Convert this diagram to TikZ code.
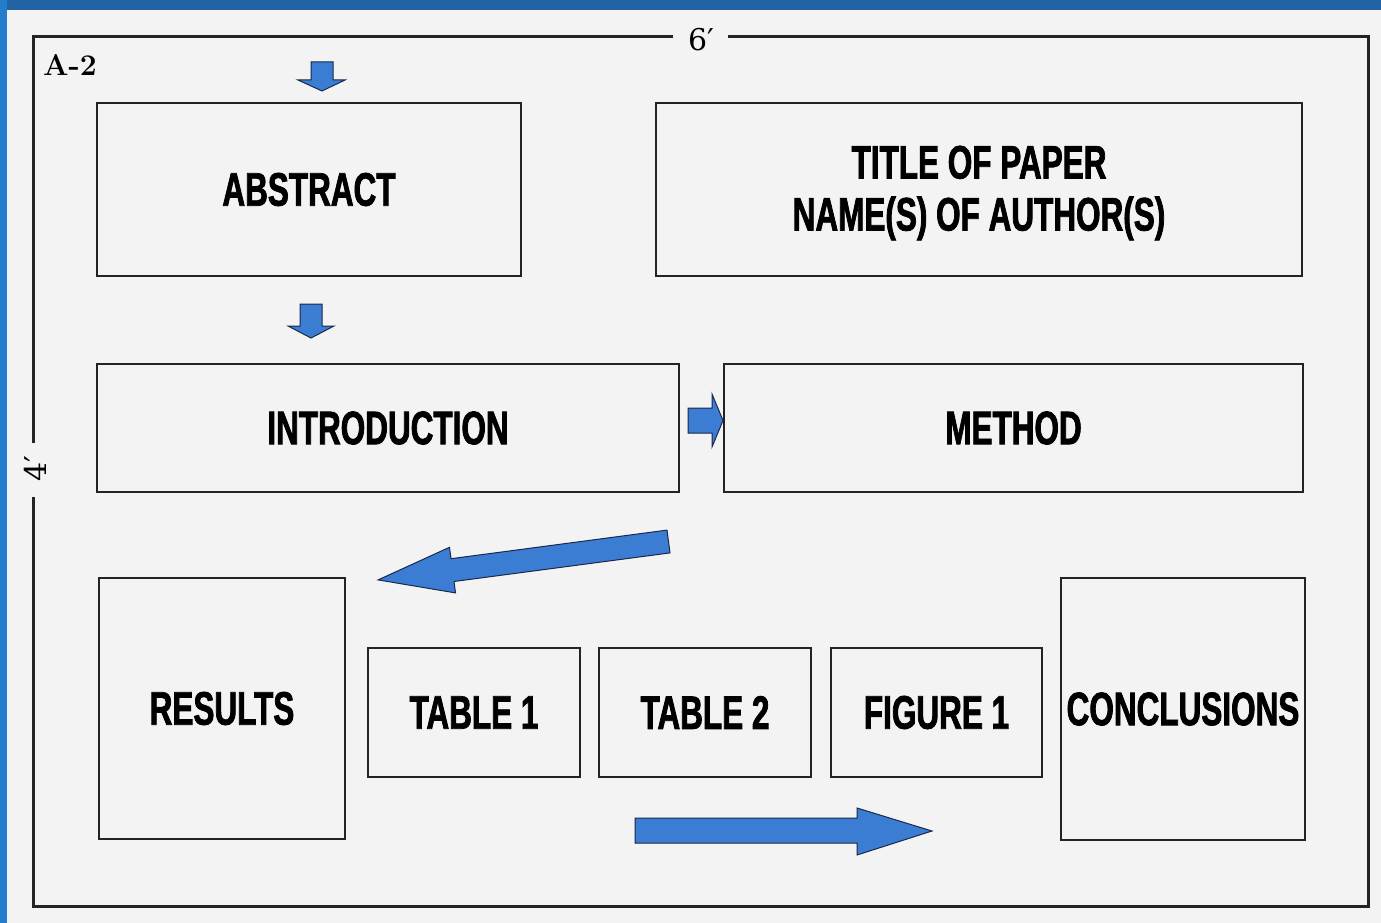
\documentclass[tikz,border=0pt]{standalone}
\usepackage{fontspec}
\newfontfamily\lblfont[FakeStretch=0.67,FakeBold=1.6]{Liberation Sans}
\newfontfamily\dimfont{DejaVu Serif}
\definecolor{bgc}{RGB}{243,243,243}
\definecolor{topblue}{RGB}{33,99,163}
\definecolor{leftblue}{RGB}{38,124,204}
\definecolor{arrblue}{RGB}{60,125,212}
\definecolor{arrline}{RGB}{25,40,75}
\definecolor{ink}{RGB}{35,35,35}
\tikzset{
  box/.style={draw=ink, line width=2.8pt, inner sep=0pt, align=center,
    font=\lblfont\bfseries\fontsize{47}{52}\selectfont, text=black},
  framel/.style={draw=ink, line width=3pt},
  blk/.style={fill=arrblue, draw=arrline, line width=1pt, line join=miter},
  dim/.style={inner sep=0pt, font=\dimfont\fontsize{30}{30}\selectfont, text=black}
}
\begin{document}
\begin{tikzpicture}[x=1pt,y=-1pt]
\useasboundingbox (0,0) rectangle (1381,923);
\fill[bgc] (0,0) rectangle (1381,923);
\fill[topblue] (0,0) rectangle (1381,10);
\fill[leftblue] (0,0) rectangle (7,923);
% outer frame with gaps
\coordinate (ftl) at (33,37);
\coordinate (ftr) at (1368,37);
\coordinate (fbl) at (33,906);
\coordinate (fbr) at (1368,906);
\node[dim] (six) at (701,40) {6′};
\node[dim, rotate=90] (four) at (35,469) {4′};
\draw[framel] (673,37) -- (ftl) -- (33,443);
\draw[framel] (33,497) -- (fbl) -- (fbr) -- (ftr) -- (728,37);
\node[inner sep=0pt, font=\bfseries\fontsize{30}{30}\selectfont] (a2) at (70,65) {A-2};
% arrows (drawn before boxes)
\draw[blk] (688,408) -- (712,408) -- (712,394) -- (723,420.5) -- (712,447) -- (712,433) -- (688,433) -- cycle;
\draw[blk] (311,62) -- (333,62) -- (333,80) -- (345,80) -- (322,91) -- (298,80) -- (311,80) -- cycle;
\draw[blk] (300,304) -- (322,304) -- (322,326) -- (334,326) -- (311,338) -- (288,326) -- (300,326) -- cycle;
\draw[blk] (667.0,530.1) -- (451.0,558.7) -- (449.5,547.3) -- (378.1,579.9) -- (455.5,592.9) -- (454.0,581.5) -- (670.0,552.9) -- cycle;
\draw[blk] (635,818) -- (857,818) -- (857,808) -- (932,831) -- (857,855) -- (857,843) -- (635,843) -- cycle;
% boxes
\node[box, minimum width=424pt, minimum height=173pt] (abs) at (309,189.5) {ABSTRACT};
\node[box, minimum width=646pt, minimum height=173pt] (title) at (979,189.5) {};
\node[box, draw=none, anchor=center] (tline) at (979,193) {TITLE OF PAPER\\NAME(S) OF AUTHOR(S)};
\node[box, minimum width=582pt, minimum height=128pt] (intro) at (388,428) {INTRODUCTION};
\node[box, minimum width=579pt, minimum height=128pt] (meth) at (1013.5,428) {METHOD};
\node[box, minimum width=246pt, minimum height=261pt] (res) at (222,708.5) {RESULTS};
\node[box, minimum width=212pt, minimum height=129pt] (t1) at (474,712.5) {TABLE 1};
\node[box, minimum width=212pt, minimum height=129pt] (t2) at (705,712.5) {TABLE 2};
\node[box, minimum width=211pt, minimum height=129pt] (f1) at (936.5,712.5) {FIGURE 1};
\node[box, minimum width=244pt, minimum height=262pt] (conc) at (1183,709) {CONCLUSIONS};
\end{tikzpicture}
\end{document}
